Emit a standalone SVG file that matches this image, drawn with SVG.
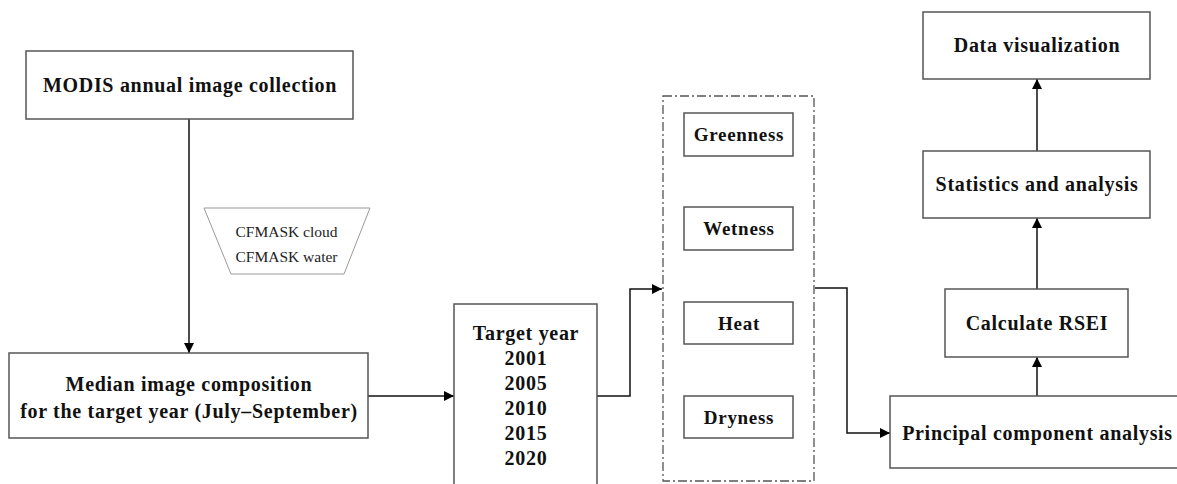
<svg xmlns="http://www.w3.org/2000/svg" width="1177" height="484" viewBox="0 0 1177 484">
<style>
.box{fill:#fff;stroke:#555;stroke-width:1.5}
.t{font-family:"Liberation Serif","Times New Roman",serif;font-weight:bold;font-size:20px;letter-spacing:0.7px;fill:#111;text-anchor:middle;dominant-baseline:central}
.s{font-family:"Liberation Serif","Times New Roman",serif;font-size:15.5px;fill:#222;text-anchor:middle;dominant-baseline:central}
.c{fill:none;stroke:#111;stroke-width:1.5}
</style>
<defs>
<marker id="ah" viewBox="0 0 10 10" refX="10" refY="5" markerWidth="10" markerHeight="10" markerUnits="userSpaceOnUse" orient="auto">
<path d="M0,0 L10,5 L0,10 z" fill="#000"/>
</marker>
</defs>
<rect width="1177" height="484" fill="#fff"/>
<g id="connectors">
<path class="c" d="M189,119 V353" marker-end="url(#ah)"/>
<path class="c" d="M368,396 H454" marker-end="url(#ah)"/>
<path class="c" d="M597,396 H630 V289 H662" marker-end="url(#ah)"/>
<path class="c" d="M815,288 H847 V433 H890" marker-end="url(#ah)"/>
<path class="c" d="M1037,396 V357" marker-end="url(#ah)"/>
<path class="c" d="M1037,289 V218" marker-end="url(#ah)"/>
<path class="c" d="M1037,151 V79" marker-end="url(#ah)"/>
</g>
<g id="modis">
<rect class="box" x="26" y="51" width="327" height="68"/>
<text class="t" x="190" y="85">MODIS annual image collection</text>
</g>
<g id="cfmask">
<polygon points="204,208 370,208 344,274 231,274" fill="#fff" stroke="#999" stroke-width="1"/>
<text class="s" x="286.5" y="231">CFMASK cloud</text>
<text class="s" x="286.5" y="256">CFMASK water</text>
</g>
<g id="median">
<rect class="box" x="9" y="353" width="359" height="85"/>
<text class="t" x="189" y="384">Median image composition</text>
<text class="t" x="189" y="411">for the target year (July–September)</text>
</g>
<g id="target">
<rect class="box" x="454" y="304" width="143" height="200"/>
<text class="t" x="526" y="333">Target year</text>
<text class="t" x="526" y="358">2001</text>
<text class="t" x="526" y="383">2005</text>
<text class="t" x="526" y="408">2010</text>
<text class="t" x="526" y="433">2015</text>
<text class="t" x="526" y="458">2020</text>
</g>
<g id="indices">
<rect x="663" y="96" width="151" height="385" fill="none" stroke="#555" stroke-width="1.3" stroke-dasharray="9,3,2,3"/>
</g>
<g id="greenness">
<rect class="box" x="684" y="113" width="109" height="43"/>
<text class="t" x="739" y="134.5" style="font-size:19px">Greenness</text>
</g>
<g id="wetness">
<rect class="box" x="684" y="207" width="109" height="43"/>
<text class="t" x="739" y="228.5" style="font-size:19px">Wetness</text>
</g>
<g id="heat">
<rect class="box" x="684" y="302" width="109" height="42"/>
<text class="t" x="739" y="323" style="font-size:19px">Heat</text>
</g>
<g id="dryness">
<rect class="box" x="684" y="396" width="109" height="42"/>
<text class="t" x="739" y="417" style="font-size:19px">Dryness</text>
</g>
<g id="pca">
<rect class="box" x="890" y="396" width="300" height="72"/>
<text class="t" x="1037.5" y="433">Principal component analysis</text>
</g>
<g id="rsei">
<rect class="box" x="945" y="289" width="183" height="68"/>
<text class="t" x="1037" y="323">Calculate RSEI</text>
</g>
<g id="stats">
<rect class="box" x="923" y="151" width="227" height="67"/>
<text class="t" x="1037" y="184">Statistics and analysis</text>
</g>
<g id="dataviz">
<rect class="box" x="923" y="12" width="227" height="67"/>
<text class="t" x="1037" y="45">Data visualization</text>
</g>
</svg>
